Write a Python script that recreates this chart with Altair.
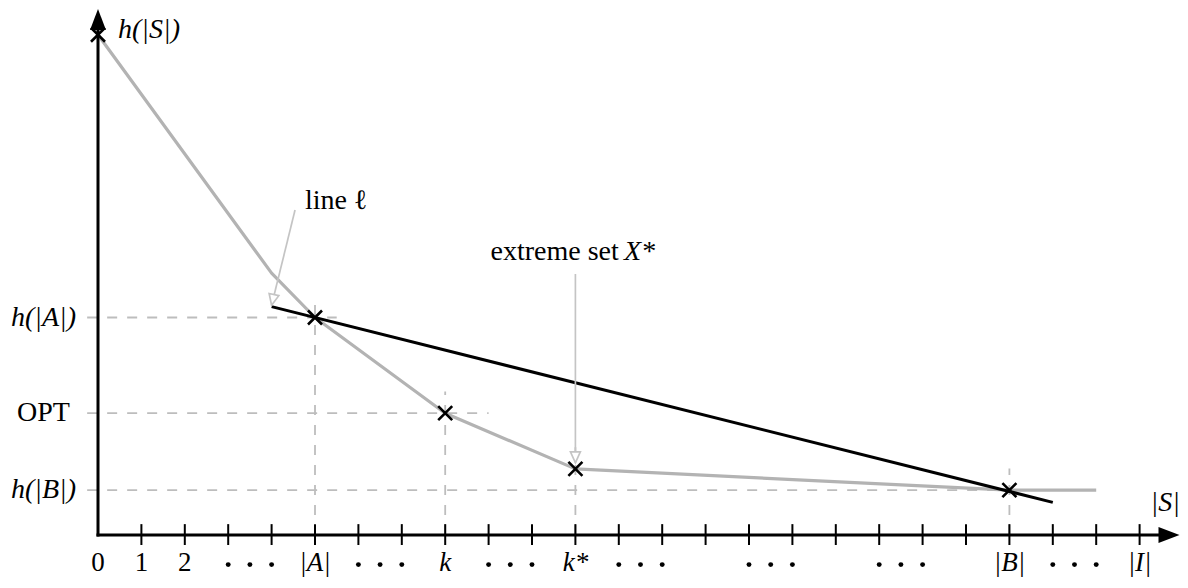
import altair as alt
import pandas as pd

# ---------------- data (in diagram units) ----------------
curve_x = [0, 4, 5, 8, 11, 21, 23]
curve_y = [11.5, 6.02, 5.0, 2.8, 1.52, 1.03, 1.03]

line_x = [4, 22]
line_y = [5.25, 0.75]

cross_x = [0, 5, 8, 11, 21]
cross_y = [11.5, 5.0, 2.8, 1.52, 1.03]

tick_positions = list(range(1, 25))

plain_tick_pos = [0, 1, 2]
plain_tick_text = ["0", "1", "2"]
math_tick_pos = [5, 8, 11, 21, 24]
math_tick_text = ["|A|", "k", "k*", "|B|", "|I|"]
dots_centers = [3.5, 6.5, 9.5, 12.5, 15.5, 18.5, 22.5]
dots_offsets = [-0.5, 0.0, 0.5]

hguide_y = [5.0, 2.8, 1.03]
hguide_end = [5.5, 9.0, 21.0]
vguide_x = [5, 8, 11, 21]
vguide_top = [5.5, 3.3, 2.02, 1.53]

ylabel_y = [5.0, 2.8, 1.03]
ylabel_text = ["h(|A|)", "OPT", "h(|B|)"]
ylabel_math = [True, False, True]

arrow_x = [4.54, 11.0]
arrow_y = [7.47, 6.0]
arrow_x2 = [4.0, 11.0]
arrow_y2 = [5.28, 1.66]
arrow_angle = [192.5, 180.0]

# ---------------- scales ----------------
W, H = 1172, 570
UX, UY = 43.4, 43.5
OX, OY = 90, 527
xdom = [-OX / UX, (W - OX) / UX]
ydom = [-(H - OY) / UY, OY / UY]
xs = alt.Scale(domain=xdom, nice=False, zero=False)
ys = alt.Scale(domain=ydom, nice=False, zero=False)

def X(f="x"):
    return alt.X(f"{f}:Q", scale=xs, axis=None)

def Y(f="y"):
    return alt.Y(f"{f}:Q", scale=ys, axis=None)

FONT = "Liberation Serif"
FS = 28
FS_TICK = 27
GUIDE = "#bdbdbd"
CURVE = "#b3b3b3"

# guides
hg = pd.DataFrame({"x": [-0.25] * len(hguide_y), "x2": hguide_end, "y": hguide_y})
vg = pd.DataFrame({"x": vguide_x, "y": [0] * len(vguide_x), "y2": vguide_top})
hguides = alt.Chart(hg).mark_rule(color=GUIDE, strokeWidth=1.8, strokeDash=[10, 10]).encode(
    x=X(), x2="x2:Q", y=Y())
vguides = alt.Chart(vg).mark_rule(color=GUIDE, strokeWidth=1.8, strokeDash=[10, 10]).encode(
    x=X(), y=Y(), y2="y2:Q")

curve = alt.Chart(pd.DataFrame({"x": curve_x, "y": curve_y, "o": range(len(curve_x))})).mark_line(
    color=CURVE, strokeWidth=3.2, strokeJoin="round").encode(x=X(), y=Y(), order="o:Q")

lline = alt.Chart(pd.DataFrame({"x": line_x, "y": line_y})).mark_line(
    color="black", strokeWidth=3).encode(x=X(), y=Y())

# axes
xaxis = alt.Chart(pd.DataFrame({"x": [0], "x2": [24.5], "y": [0]})).mark_rule(
    color="black", strokeWidth=3, strokeCap="square").encode(x=X(), x2="x2:Q", y=Y())
yaxis = alt.Chart(pd.DataFrame({"x": [0], "y": [0], "y2": [11.8]})).mark_rule(
    color="black", strokeWidth=3, strokeCap="square").encode(x=X(), y=Y(), y2="y2:Q")
xhead = alt.Chart(pd.DataFrame({"x": [24.92], "y": [0]})).mark_point(
    shape="M 0 0 L -1 -0.38 L -1 0.38 Z", size=1764, filled=True, color="black",
    opacity=1, strokeWidth=0).encode(x=X(), y=Y())
yhead = alt.Chart(pd.DataFrame({"x": [0], "y": [12.09]})).mark_point(
    shape="M 0 0 L -0.38 1 L 0.38 1 Z", size=1764, filled=True, color="black",
    opacity=1, strokeWidth=0).encode(x=X(), y=Y())

ticks = alt.Chart(pd.DataFrame({"x": tick_positions, "y": [-0.23] * len(tick_positions),
                                "y2": [0.25] * len(tick_positions)})).mark_rule(
    color="black", strokeWidth=2).encode(x=X(), y=Y(), y2="y2:Q")

crosses = alt.Chart(pd.DataFrame({"x": cross_x, "y": cross_y})).mark_point(
    shape="M -1 -1 L 1 1 M -1 1 L 1 -1", size=196, filled=False, color="black",
    strokeWidth=2.6, opacity=1).encode(x=X(), y=Y())

# annotation arrows
arr = pd.DataFrame({"x": arrow_x, "y": arrow_y, "x2": arrow_x2, "y2": arrow_y2, "a": arrow_angle})
arrows = alt.Chart(arr).mark_rule(color="#c4c4c4", strokeWidth=1.7).encode(
    x=X(), y=Y(), x2="x2:Q", y2="y2:Q")
heads = alt.Chart(arr).mark_point(
    shape="M 0 0 L -0.45 1 L 0.45 1 Z", size=484, filled=True, fill="white",
    stroke="#c4c4c4", strokeWidth=1.7, opacity=1).encode(
    x=X("x2"), y=Y("y2"), angle=alt.Angle("a:Q", scale=None))

# tick labels
TY = -0.64
plain_ticks = alt.Chart(pd.DataFrame({"x": plain_tick_pos, "y": [TY] * 3, "t": plain_tick_text})).mark_text(
    font=FONT, fontSize=FS_TICK, baseline="middle", align="center", color="black").encode(
    x=X(), y=Y(), text="t:N")
math_ticks = alt.Chart(pd.DataFrame({"x": math_tick_pos, "y": [TY] * len(math_tick_pos),
                                     "t": math_tick_text})).mark_text(
    font=FONT, fontSize=FS_TICK, fontStyle="italic", baseline="middle", align="center",
    color="black").encode(x=X(), y=Y(), text="t:N")
dots_rows = [{"x": c + o, "y": -0.68} for c in dots_centers for o in dots_offsets]
dots = alt.Chart(pd.DataFrame(dots_rows)).mark_circle(size=24, color="black", opacity=1).encode(
    x=X(), y=Y())

# y labels
yl = pd.DataFrame({"x": [-1.256] * 3, "y": ylabel_y, "t": ylabel_text, "m": ylabel_math})
ylab_math = alt.Chart(yl[yl.m]).mark_text(
    font=FONT, fontSize=FS, fontStyle="italic", baseline="middle", align="center",
    color="black").encode(x=X(), y=Y(), text="t:N")
ylab_plain = alt.Chart(yl[~yl.m]).mark_text(
    font=FONT, fontSize=FS, baseline="middle", align="center", color="black").encode(
    x=X(), y=Y(), text="t:N")

# other texts
def txt(x, y, t, align="left", italic=False, baseline="middle", size=FS):
    kw = dict(font=FONT, fontSize=size, baseline=baseline, align=align, color="black")
    if italic:
        kw["fontStyle"] = "italic"
    return alt.Chart(pd.DataFrame({"x": [x], "y": [y], "t": [t]})).mark_text(**kw).encode(
        x=X(), y=Y(), text="t:N")

t_hs = txt(0.46, 11.62, "h(|S|)", italic=True)
t_s = txt(24.93, 0.74, "|S|", align="right", italic=True)
t_line = txt(4.77, 7.68, "line ℓ")
t_ext1 = txt(12.0, 6.5, "extreme set", align="right")
t_ext2 = txt(12.12, 6.5, "X*", italic=True)

chart = alt.layer(
    hguides, vguides, curve, lline, xaxis, yaxis, xhead, yhead, ticks, crosses,
    arrows, heads, plain_ticks, math_ticks, dots, ylab_math, ylab_plain,
    t_hs, t_s, t_line, t_ext1, t_ext2,
).properties(
    width=W, height=H, padding=0, autosize=alt.AutoSizeParams(type="none"),
    background="white",
).configure_view(stroke=None)

chart.save("out.html", embed_options={"renderer": "svg", "actions": False})
